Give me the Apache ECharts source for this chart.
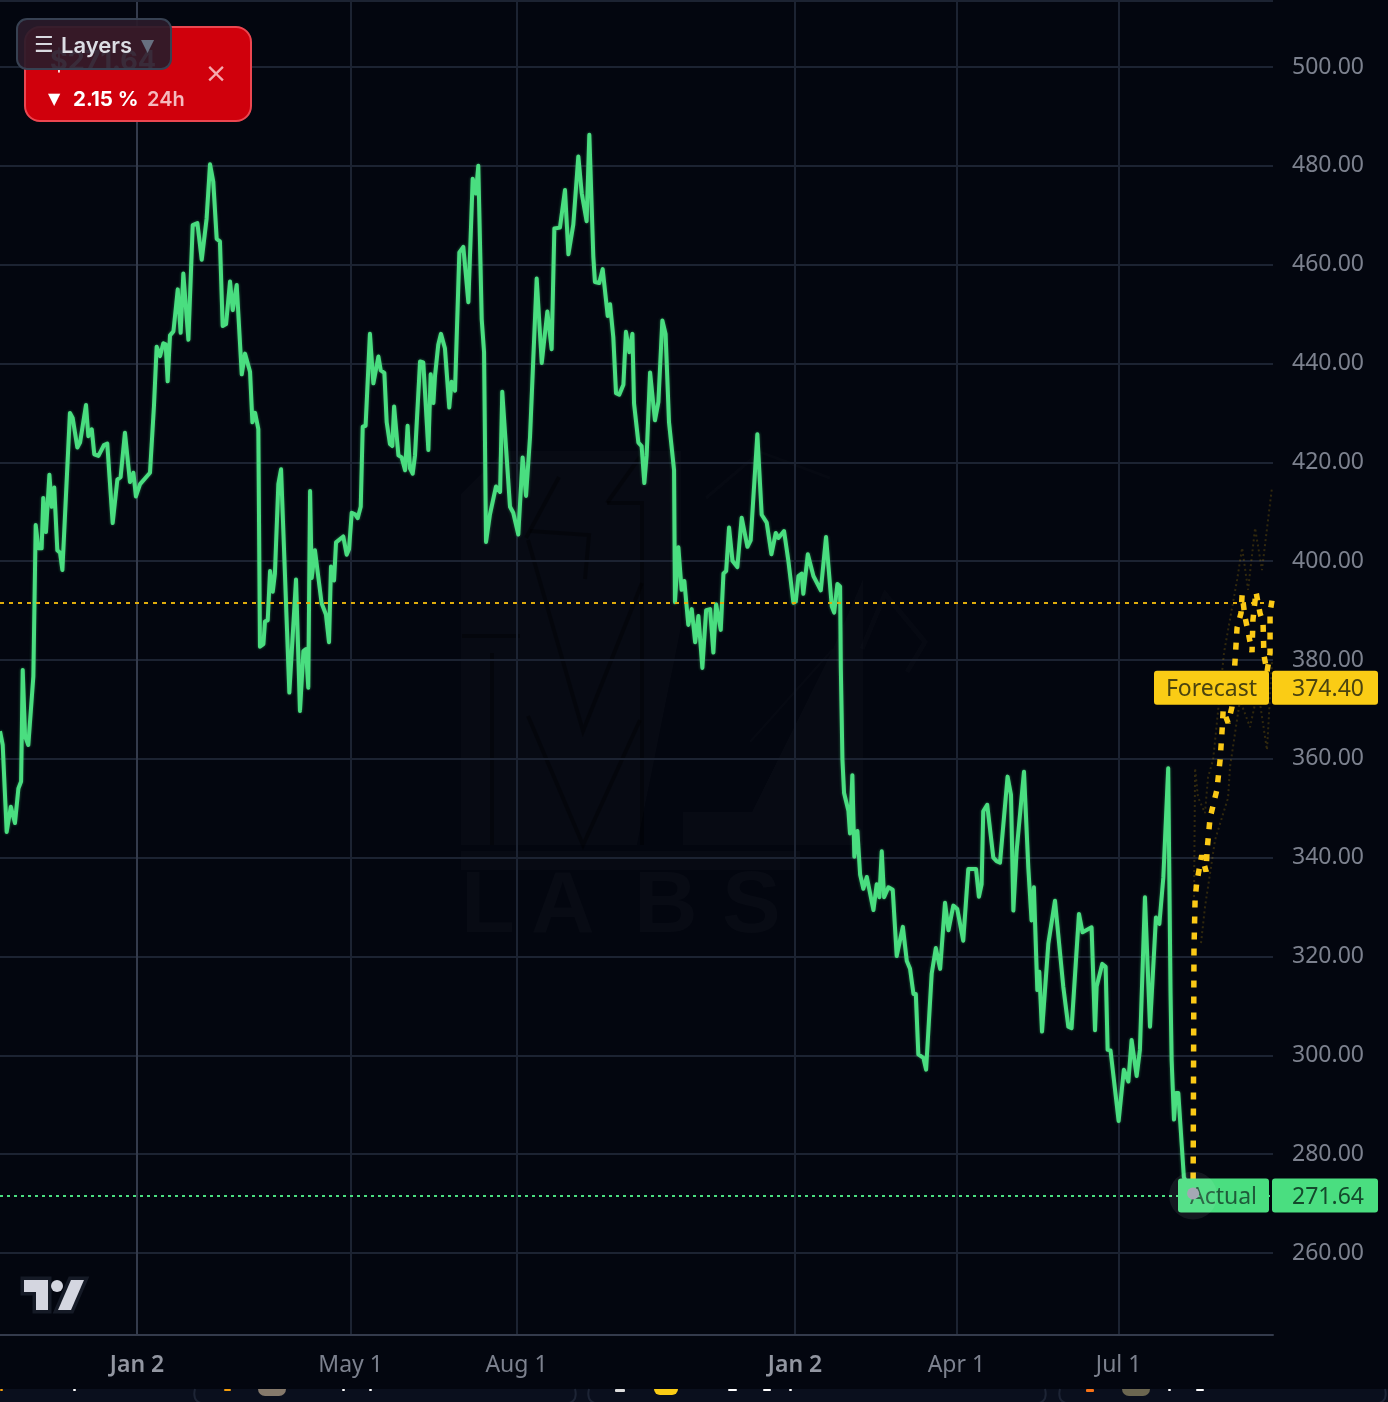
<!DOCTYPE html>
<html><head><meta charset="utf-8">
<style>html,body{margin:0;padding:0;background:#03060f}#c{width:1388px;height:1402px}</style>
<script src="https://cdn.jsdelivr.net/npm/echarts@6/dist/echarts.min.js"></script>
</head><body><div id="c"></div>
<script>
// days since 2023-01-02
const actualDays=[-76,-74.5,-72.3,-70,-67.7,-65.8,-64.3,-63.4,-62.1,-60.3,-57.5,-56.2,-54.7,-52.9,-52,-50.5,-48.6,-47.3,-45.9,-44.2,-42.7,-41.4,-37.2,-35.7,-33.1,-31.6,-28.3,-27,-25.1,-23.7,-21.4,-18.3,-16.5,-13.5,-10.9,-9.1,-6.7,-3.9,-2,-0.6,1.7,7.2,9.4,10.9,12.8,14.6,15.9,17,18.3,20.2,22.6,24.2,25.7,28.5,29.4,30.9,33.5,35.9,38.6,40.5,42.3,44.2,46,47.5,49.4,51.6,53.1,55.3,58.1,59.9,62.7,64,65.5,67.3,68.2,70.1,71,72.5,73.8,75.3,76.5,78.4,79.9,84.5,88.2,90.4,92.3,93.7,95,96,96.9,98.7,102.4,104.8,106.5,107.6,109.3,110.4,114.4,116.3,117.6,119.1,120.9,122.4,124.1,125.2,126.8,129.2,131.1,133.9,135.2,137.2,138.5,140.3,141.6,142.6,145,146.8,148.7,150.1,151.4,152.9,154.2,157,158.8,161.6,162.9,164.4,165.3,167.1,168.6,170.8,173.2,174.5,176.4,178.8,181,183.8,186.2,188,189.3,191.2,192.5,193.6,195.8,199.1,201.4,202.6,206.9,208.7,211.5,213.9,215.8,218,219.8,221.7,224.5,227.6,230,231.5,234.6,237.4,239.3,242,244.8,246.7,249.4,250.9,253.1,254,256.4,258.3,261.1,262.4,264.2,265.7,267.5,269.8,271.2,273.1,274.8,275.7,278.1,279.9,281.4,282.7,284.6,287.3,289.2,291.4,293.2,295.1,297.9,298.4,300.3,302.1,303.6,305.8,307.7,309.6,311.4,313.6,315.7,317.9,319.7,321.2,323.8,325.3,326.8,328.4,330.3,333,335.4,338.6,340.4,344.1,346.5,349.3,351.9,354.3,355.8,358.9,361.3,364.1,365.4,366.9,368.7,369.6,372.1,375.2,379.3,382.2,385.4,386.7,388.5,390,390.4,391.3,392.2,394.6,395.5,396.8,397.9,399.6,401.1,402.9,404.8,408.5,410.3,411.8,413.1,414.4,416.8,419.2,421.4,422.3,424.8,427,428.8,430.7,432,433.4,436.2,437.7,440.8,443.1,445.5,448.2,450.1,452.8,455,458.3,461.1,465.4,467,468.5,469.4,471.6,475,476.8,478.7,482.9,484.8,486.1,487.9,492,494.4,496.2,497.5,499.4,500.5,502,505.5,509.2,513.8,516.6,518.4,522.5,524.5,529.5,531.4,532.3,535.4,537.3,538.4,540,544.5,547.4,549.9,551.7,554.5,556.3,559.1,561.9,565.2,567.1,569.3,572,573.3,573.9,575.2,576.3,577.6,580.7,585.8];
const actualValues=[365.6,362.8,345.2,350.3,347,354,355.4,378,364.6,362.8,376.7,407.3,402.6,402.6,412.8,405.9,417.5,411,414.9,402.2,401.7,398.2,430,429,423,424,431.6,425.3,426.7,421.6,421.3,423.5,423.8,407.7,416.5,417,426,416,417.9,413.1,415.6,417.9,431.4,443.4,441.5,444.1,443.9,436.4,445.7,446.5,455,446.2,458.2,444.8,444.8,468,468.4,461,469.3,480.3,476.8,465.2,464.7,447.6,448,456.6,450.8,455.9,437.8,442,438.3,428.1,430,426.7,382.7,383.2,387.8,388,398,393.8,397.5,415.6,418.6,373.4,396.3,369.7,381.8,382.2,374.4,414.2,396.6,402.2,391.5,389.2,383.6,398.9,396.1,403.8,405,401.3,402.4,409.8,409.5,408.7,411,427.2,427.4,446,436,441.4,438.6,438.1,428.1,423.7,423.3,431.3,421.4,421,418.4,427.4,418.8,417.7,421.4,440.4,440.2,422.5,437.8,432,437.5,443.8,446,443.1,431.1,436.3,434.5,462.5,463.6,452.4,477.4,474.4,480,449,442.3,403.9,409.5,415.1,414,434.3,411,409.8,405.4,421,413.2,425.1,440.8,457.2,440.1,450.5,442.9,467.3,467.5,475.1,462.1,468.1,481.9,474.4,468.8,486.3,461.7,456.5,456.3,459.1,449.6,452,445.3,434,433.7,435.7,446.4,442.3,446,431.9,424,423.3,415.8,421.4,438.2,428.5,432.2,448.7,446,428.1,418.4,391.7,402.8,394.2,396,387.1,390.3,383.6,388.9,378.4,390.1,390.3,381.5,391.3,386.1,397.5,398,406.8,400.1,398.8,408.8,402.9,404.2,425.7,409.4,407.8,401.4,405.7,404.7,406.1,400.1,391.6,391.8,397,397.5,393.4,401.4,397,394.1,404.9,390.8,389.6,395.4,394.9,378.4,359.8,353.1,349.5,344.9,356.7,340.2,345.4,336.6,333.7,336.1,329.4,334.6,332,341.3,332,334,333.5,320.1,320.1,326,319.1,317.5,312.4,312.4,300.2,299.5,297.1,316.5,321.7,317.5,330.9,325.3,330.3,329.6,323.2,337.7,337.7,332.1,334.6,349.4,350.7,340,339.3,339,356.4,352.7,329.3,341.3,357.4,338,327.3,334,313.2,316.9,304.8,322.6,331.3,313.9,305.8,305.5,328.6,324.9,325.9,305.1,313.9,318.5,317.9,301.1,301,286.7,297.1,294.7,303.1,295.8,301.1,332,305.8,327.9,326.6,336,358.1,312.5,299.1,287,292.4,292.4,275.3,271.64];
const forecastDays=[585.8,586.3,586.9,587.8,589.1,590.6,593,593.6,595.2,599,600.8,602,602.5,605.2,607.4,609.1,610.2,612.4,613,614.6,616.3,618.5,619,620.7,622.9,624.6,625.1,626.8,628.5,628.5,629.6];
const forecastValues=[271.64,321.3,331.4,334.9,337.5,340.5,337.2,341.6,348,353.7,359.8,366.4,369.9,367.3,370.5,380,386.5,389.5,393.2,388.7,385.7,381.6,388.1,393.8,389.5,387.5,381,377.6,381.4,389.7,392.1];
const upperDays=[586.3,586.9,588.5,592.4,594.1,596.9,603,610.2,613,616.3,620.2,624,629.6];
const upperValues=[330,358.1,352.3,349,356.3,359.8,381.6,396.2,402.7,394.2,406.7,398.2,415];
const lowerDays=[590.2,592.4,598,605.2,606.3,611.8,617.4,621.8,626.8,629.6];
const lowerValues=[322.7,330,343.6,352.1,358.4,371.9,366.4,373.9,361.8,380];
const yTicks=[260,280,300,320,340,360,380,400,420,440,460,480,500];
const xTicks=[0,118.5,210.5,365,454.5,544.5];
const xTickLabels=['{b|Jan 2}','May 1','Aug 1','{b|Jan 2}','Apr 1','Jul 1'];
const actualPrice=271.64, forecastPrice=374.40, forecastLevel=391.5;
const pairs=(xs,ys)=>xs.map((x,i)=>[x,ys[i]]);
const rightEdge=630.13;
const chart=echarts.init(document.getElementById('c'),null,{renderer:'canvas'});
const F='"Noto Sans",sans-serif', I='Inter,sans-serif', D='"DejaVu Sans"';
const grey='#7c818e', GRID='#1c2332';
function tag(price,text,offset,w,bg,fg){return {coord:[rightEdge,price],
 symbol:`path://M3 0H${w-3}Q${w} 0 ${w} 3V31Q${w} 34 ${w-3} 34H3Q0 34 0 31V3Q0 0 3 0Z`,symbolSize:[w,34],symbolOffset:[offset,0],
 itemStyle:{color:bg},label:{show:true,position:'inside',offset:[offset>0?3:0,1.5],formatter:text,color:fg,fontFamily:F,fontSize:23}};}
const wm='rgba(255,255,255,0.018)', wd='rgba(0,0,0,0.35)';
const t=(x,y,text,size,fill,fam,weight,z,align)=>({type:'text',x,y,z:z||20,silent:true,style:{text,fontSize:size,fontFamily:fam||I,fontWeight:weight||500,fill,textAlign:align||'left',textVerticalAlign:'middle'}});
const poly=(points,fill,extra)=>({type:'polygon',z:21,silent:true,shape:{points},style:Object.assign({fill},extra||{})});
const bit=(x,y,w,h,fill)=>({type:'rect',z:2,silent:true,shape:{x,y,width:w,height:h,r:1},style:{fill}});
const line=(a,b,c,d,stroke,w)=>({type:'line',z:1,silent:true,shape:{x1:a,y1:b,x2:c,y2:d},style:{stroke,lineWidth:w}});
const corner=(a,b,c,d,e,f)=>({type:'polyline',z:1,silent:true,shape:{points:[[a,b],[c,d],[e,f]],smooth:0.6},style:{stroke:'#1d2435',lineWidth:2,fill:'none'}});
const wl=(points,stroke,w)=>({type:'polyline',z:0,silent:true,shape:{points},style:{stroke,lineWidth:w||4,fill:'none'}});
const wp=(points)=>({type:'polygon',z:0,silent:true,shape:{points},style:{fill:wm}});
const T=[[24,1280],[48,1280],[48,1310],[36,1310],[36,1292],[24,1292]], S=[[71,1280],[84,1280],[71,1310],[58,1310]];
chart.setOption({
 backgroundColor:'#03060f',animation:false,
 grid:{left:0,top:0,right:115,bottom:67,containLabel:false},
 xAxis:{type:'value',min:-76,max:rightEdge,
  axisLine:{show:true,onZero:false,lineStyle:{color:'#343b4c',width:2}},axisTick:{show:false,customValues:xTicks},
  splitLine:{show:true,customValues:xTicks,lineStyle:{color:GRID,width:2}},
  axisLabel:{customValues:xTicks,margin:19,fontFamily:F,fontSize:23,color:grey,hideOverlap:false,
   formatter:v=>{const i=xTicks.indexOf(v);return i<0?'':xTickLabels[i];},
   rich:{b:{fontFamily:F,fontSize:23,fontWeight:600,color:'#9296a1'}}}},
 yAxis:{type:'value',position:'right',min:243.406,max:513.558,
  axisLine:{show:true,lineStyle:{color:'#343b4c',width:2}},axisTick:{show:false,customValues:yTicks},
  splitLine:{show:true,customValues:yTicks,lineStyle:{color:GRID,width:2}},
  axisLabel:{customValues:yTicks,margin:19,fontFamily:F,fontSize:23,color:grey,formatter:v=>v.toFixed(2)}},
 series:[
  {type:'line',name:'Upper',data:pairs(upperDays,upperValues),symbol:'none',z:2,lineStyle:{color:'rgba(234,179,8,0.2)',width:2,type:[2,3]}},
  {type:'line',name:'Lower',data:pairs(lowerDays,lowerValues),symbol:'none',z:2,lineStyle:{color:'rgba(234,179,8,0.2)',width:2,type:[2,3]}},
  {type:'line',name:'Actual',data:pairs(actualDays,actualValues),symbol:'none',z:4,lineStyle:{color:'#4ade80',width:4,join:'round',shadowBlur:3,shadowColor:'rgba(74,222,128,0.45)'},
   markLine:{silent:true,symbol:'none',label:{show:false},animation:false,lineStyle:{color:'#4ade80',width:2,type:[3,4],shadowBlur:0},data:[{yAxis:actualPrice}]}},
  {type:'line',name:'Forecast',data:pairs(forecastDays,forecastValues),symbol:'none',z:5,lineStyle:{color:'#fbc916',width:5.5,type:[7,9]},
   markLine:{silent:true,symbol:'none',label:{show:false},animation:false,lineStyle:{color:'#e0ac0c',width:2,type:[4,5]},data:[{yAxis:forecastLevel}]},
   markPoint:{silent:true,animation:false,z:12,data:[
    tag(forecastPrice,'Forecast',-61.5,115,'#facc15','#4a430f'),
    tag(forecastPrice,'374.40',52,106,'#facc15','#4a430f'),
    tag(actualPrice,'Actual',-49.5,91,'#4ade80','#1f5c3a'),
    tag(actualPrice,'271.64',52,106,'#4ade80','#144a2c')
   ]}},
  {type:'scatter',name:'Halo',data:[[585.8,actualPrice]],symbolSize:48,z:13,silent:true,itemStyle:{color:'rgba(255,255,255,0.07)',opacity:1}},
  {type:'scatter',name:'Last',data:[[585.8,actualPrice+0.4]],symbolSize:12,z:14,silent:true,itemStyle:{color:'#a4a8b4',opacity:1}}
 ],
 graphic:{elements:[
  line(0,1,1273,1,GRID,2),
  wp([[461,494],[504,451],[681,451],[681,627],[637,845],[461,845]]),
  wp([[461,851],[800,851],[800,870],[461,870]]),
  wp([[683,812],[752,812],[833,649],[863,579],[863,845],[752,845],[683,845]]),
  wl([[528,540],[583,731],[642,583]],wd),wl([[528,716],[583,845],[640,720]],wd),
  wl([[492,653],[492,845]],wd),wl([[642,505],[642,845]],wd),
  wl([[530,531],[589,535],[585,579]],wd),wl([[526,538],[559,477]],wd),wl([[607,503],[644,503]],wd),wl([[607,503],[640,457]],wd),
  wl([[462,636],[520,636]],wd),
  wl([[862,649],[885,594],[925,642],[907,672]],'rgba(255,255,255,0.015)',5),
  wl([[750,742],[833,649]],'rgba(255,255,255,0.015)',2),
  wl([[706,498],[760,452],[830,478]],'rgba(255,255,255,0.015)',3),
  t(461,908,'L',88,'rgba(255,255,255,0.024)','"Liberation Sans"',700,0),
  t(531,908,'A',88,'rgba(255,255,255,0.024)','"Liberation Sans"',700,0),
  t(634,908,'B',88,'rgba(255,255,255,0.024)','"Liberation Sans"',700,0),
  t(722,908,'S',88,'rgba(255,255,255,0.024)','"Liberation Sans"',700,0),
  {type:'rect',z:1,silent:true,shape:{x:0,y:1389,width:1388,height:13},style:{fill:'#0a0f1d'}},
  corner(195,1389,197,1401,212,1403),corner(558,1403,573,1401,575,1389),
  corner(589,1389,591,1401,606,1403),corner(1028,1403,1043,1401,1045,1389),
  corner(1060,1389,1062,1401,1077,1403),corner(1368,1403,1383,1401,1385,1389),
  bit(0,1389,3,2,'#f59e0b'),bit(73,1389,3,2,'#fff'),bit(224,1389,7,2,'#f59e0b'),
  {type:'rect',z:2,silent:true,shape:{x:258,y:1389,width:28,height:7,r:[0,0,14,14]},style:{fill:'#85796b'}},
  bit(342,1389,3,2,'#fff'),bit(369,1389,3,2,'#fff'),bit(615,1389,10,3,'#ddd'),
  {type:'rect',z:2,silent:true,shape:{x:654,y:1389,width:24,height:6,r:[0,0,12,12]},style:{fill:'#facc15'}},
  bit(728,1389,9,2,'#fff'),bit(763,1389,8,2,'#fff'),bit(789,1389,3,2,'#fff'),
  bit(1086,1389,8,3,'#f97316'),
  {type:'rect',z:2,silent:true,shape:{x:1122,y:1389,width:28,height:7,r:[0,0,14,14]},style:{fill:'#6b6650'}},
  bit(1168,1389,3,2,'#fff'),bit(1196,1389,8,2,'#fff'),
  poly(T,'#151a26',{stroke:'#151a26',lineWidth:7}),poly(S,'#151a26',{stroke:'#151a26',lineWidth:7}),
  poly(T,'#d4d6e0'),poly(S,'#d4d6e0'),
  {type:'circle',z:21,silent:true,shape:{cx:57,cy:1286,r:6},style:{fill:'#d4d6e0'}},
  {type:'rect',z:20,silent:true,shape:{x:25,y:27,width:226,height:94,r:15},style:{fill:'#d0000c',stroke:'#ec4650',lineWidth:2}},
  t(50,62,'$271.64',27,'#fff',I,700,21),
  t(48,100,'▼',16,'#fff',D,400,21),
  t(73,100,'2.15 %',20.5,'#fff',I,700,21),
  t(147,100,'24h',20,'#f5b9bd',I,600,21),
  t(216,75,'×',27,'#f5a9ae',D,400,21,'center'),
  {type:'rect',z:30,silent:true,shape:{x:17,y:19,width:154,height:50,r:10},style:{fill:'rgba(42,27,42,0.93)',stroke:'#374152',lineWidth:2}},
  t(34,46,'☰',22,'#d9dae0',D,700,31),
  t(61,46,'Layers',22,'#dcdde3',I,600,31),
  t(141,47,'▼',17,'#687080',D,400,31)
 ]}
});
</script></body></html>
